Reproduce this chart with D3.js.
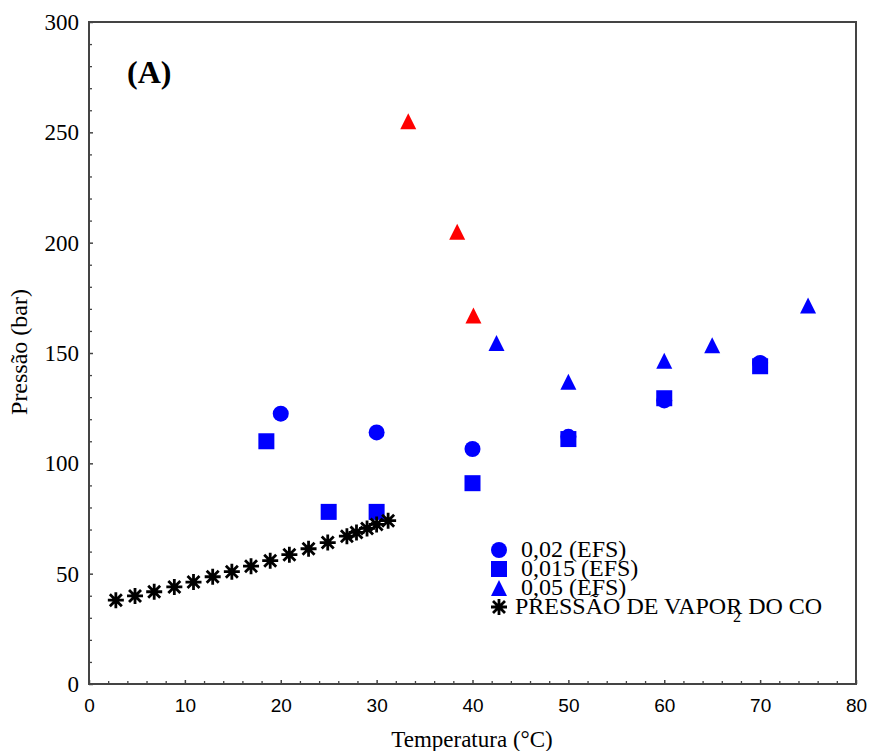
<!DOCTYPE html>
<html>
<head>
<meta charset="utf-8">
<script src="https://cdn.jsdelivr.net/npm/d3@7"></script>
<style>
  body { margin: 0; background: #fff; }
  svg { display: block; }
</style>
</head>
<body>
<div id="chart"></div>
<script>
// Configuration
const WIDTH = 869;
const HEIGHT = 751;
const BLUE = "#0000ff";
const RED = "#ff0000";
const FRAME = "#444";

// Data
const circleTemp = [20, 30, 40, 50, 60, 70];
const circlePres = [122.5, 114, 106.5, 112, 128.5, 145.5];

const squareTemp = [18.5, 25, 30, 40, 50, 60, 70];
const squarePres = [110, 78, 78, 91, 111, 129.5, 144];

const triBlueTemp = [42.5, 50, 60, 65, 75];
const triBluePres = [154.5, 137, 146.5, 153.5, 171.5];

const triRedTemp = [33.3, 38.4, 40.1];
const triRedPres = [255, 205, 167];

const vaporTemp = [2.8, 4.8, 6.8, 8.9, 10.9, 12.9, 14.9, 16.9, 18.9, 20.9, 22.9, 24.9, 26.9, 27.9, 29, 30, 31.2];
const vaporPres = [38, 39.9, 41.8, 44, 46.2, 48.6, 50.9, 53.4, 55.9, 58.6, 61.3, 64.1, 67, 68.7, 70.5, 72.3, 74];

const xTicks = [0, 10, 20, 30, 40, 50, 60, 70, 80];
const yTicks = [0, 50, 100, 150, 200, 250, 300];
const legendLabels = ["0,02 (EFS)", "0,015 (EFS)", "0,05 (EFS)", "PRESSÃO DE VAPOR DO CO"];

// Setup SVG
const svg = d3.select("#chart")
    .append("svg")
    .attr("width", WIDTH)
    .attr("height", HEIGHT);

const x = d3.scaleLinear().domain([0, 80]).range([89, 856]);
const y = d3.scaleLinear().domain([0, 300]).range([684, 22]);

const zip = (a, b) => a.map((v, i) => [v, b[i]]);
const serif = "'Liberation Serif', 'Times New Roman', serif";

// Marker shapes
const triPath = "M0,-8L8,8L-8,8Z";
const starPath = "M-8,0H8M0,-8V8M-6,-6L6,6M-6,6L6,-6";

// Minor ticks (inward)
const xMinor = d3.range(0, 81, 2).filter(v => v % 10 !== 0);
const yMinor = d3.range(0, 301, 10).filter(v => v % 50 !== 0);

svg.append("g")
    .attr("transform", `translate(0,${y(0)})`)
    .call(d3.axisBottom(x).tickValues(xMinor).tickSize(-3).tickFormat(""))
    .call(g => g.select(".domain").remove())
    .call(g => g.selectAll("line").attr("stroke", FRAME).attr("stroke-width", 1.3));

svg.append("g")
    .attr("transform", `translate(${x(0)},0)`)
    .call(d3.axisLeft(y).tickValues(yMinor).tickSize(-3).tickFormat(""))
    .call(g => g.select(".domain").remove())
    .call(g => g.selectAll("line").attr("stroke", FRAME).attr("stroke-width", 1.3));

// Major ticks + labels
svg.append("g")
    .attr("transform", `translate(0,${y(0)})`)
    .call(d3.axisBottom(x).tickValues(xTicks).tickSize(-4).tickPadding(15).tickFormat(d3.format("d")))
    .call(g => g.select(".domain").remove())
    .call(g => g.selectAll("line").attr("stroke", FRAME).attr("stroke-width", 1.5))
    .call(g => g.selectAll("text")
        .attr("fill", "#000")
        .style("font-family", "'Liberation Sans', Arial, sans-serif")
        .style("font-size", "19px"));

svg.append("g")
    .attr("transform", `translate(${x(0)},0)`)
    .call(d3.axisLeft(y).tickValues(yTicks).tickSize(-4).tickPadding(10).tickFormat(d3.format("d")))
    .call(g => g.select(".domain").remove())
    .call(g => g.selectAll("line").attr("stroke", FRAME).attr("stroke-width", 1.5))
    .call(g => g.selectAll("text")
        .attr("fill", "#000")
        .style("font-family", serif)
        .style("font-size", "23px"));

// Frame
svg.append("rect")
    .attr("x", x(0))
    .attr("y", y(300))
    .attr("width", x(80) - x(0))
    .attr("height", y(0) - y(300))
    .attr("fill", "none")
    .attr("stroke", FRAME)
    .attr("stroke-width", 2);

// Series
svg.append("g").selectAll("circle")
    .data(zip(circleTemp, circlePres))
    .join("circle")
    .attr("cx", d => x(d[0]))
    .attr("cy", d => y(d[1]))
    .attr("r", 8)
    .attr("fill", BLUE);

svg.append("g").selectAll("rect")
    .data(zip(squareTemp, squarePres))
    .join("rect")
    .attr("x", d => x(d[0]) - 8)
    .attr("y", d => y(d[1]) - 8)
    .attr("width", 16)
    .attr("height", 16)
    .attr("fill", BLUE);

svg.append("g").selectAll("path")
    .data(zip(triBlueTemp, triBluePres))
    .join("path")
    .attr("transform", d => `translate(${x(d[0])},${y(d[1])})`)
    .attr("d", triPath)
    .attr("fill", BLUE);

svg.append("g").selectAll("path")
    .data(zip(triRedTemp, triRedPres))
    .join("path")
    .attr("transform", d => `translate(${x(d[0])},${y(d[1])})`)
    .attr("d", triPath)
    .attr("fill", RED);

svg.append("g").selectAll("path")
    .data(zip(vaporTemp, vaporPres))
    .join("path")
    .attr("transform", d => `translate(${x(d[0])},${y(d[1])})`)
    .attr("d", starPath)
    .attr("stroke", "#000")
    .attr("stroke-width", 2.8)
    .attr("fill", "none");

// Legend
const legendY = [550, 569, 588, 607];
const legend = svg.append("g").attr("transform", "translate(499,0)");

legend.append("circle").attr("cx", 0).attr("cy", legendY[0]).attr("r", 8).attr("fill", BLUE);
legend.append("rect").attr("x", -8).attr("y", legendY[1] - 8).attr("width", 16).attr("height", 16).attr("fill", BLUE);
legend.append("path").attr("transform", `translate(0,${legendY[2]})`).attr("d", triPath).attr("fill", BLUE);
legend.append("path").attr("transform", `translate(0,${legendY[3]})`).attr("d", starPath)
    .attr("stroke", "#000").attr("stroke-width", 2.8).attr("fill", "none");

legend.selectAll("text.lab")
    .data(legendLabels)
    .join("text")
    .attr("class", "lab")
    .attr("x", (d, i) => i === 3 ? 16 : 22)
    .attr("y", (d, i) => legendY[i] + 7)
    .style("font-family", serif)
    .style("font-size", "24px")
    .text(d => d);

// misplaced subscript as in the original
legend.append("text")
    .attr("x", 234)
    .attr("y", 622)
    .style("font-family", serif)
    .style("font-size", "16px")
    .text("2");

// Panel tag
svg.append("text")
    .attr("x", 127)
    .attr("y", 83)
    .style("font-family", serif)
    .style("font-size", "32px")
    .style("font-weight", "bold")
    .text("(A)");

// Axis titles
svg.append("text")
    .attr("x", 472)
    .attr("y", 747)
    .attr("text-anchor", "middle")
    .style("font-family", serif)
    .style("font-size", "23px")
    .text("Temperatura (°C)");

svg.append("text")
    .attr("transform", "translate(27,352) rotate(-90)")
    .attr("text-anchor", "middle")
    .style("font-family", serif)
    .style("font-size", "24px")
    .text("Pressão (bar)");
</script>
</body>
</html>
